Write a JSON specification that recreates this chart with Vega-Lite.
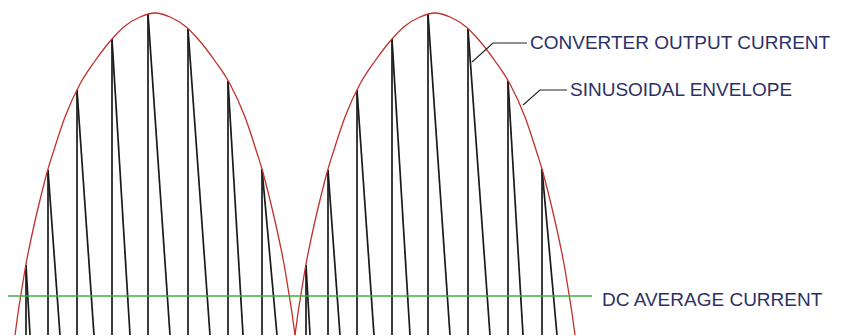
{
  "$schema": "https://vega.github.io/schema/vega-lite/v6.json",
  "width": 843,
  "height": 336,
  "padding": 0,
  "autosize": "none",
  "background": "white",
  "config": {"view": {"stroke": null}},
  "datasets": {
    "envelope": [
      {"arch": 1, "x": 15, "h": 0}, {"arch": 1, "x": 18, "h": 22}, {"arch": 1, "x": 22, "h": 47}, {"arch": 1, "x": 26, "h": 71},
      {"arch": 1, "x": 30, "h": 91}, {"arch": 1, "x": 35, "h": 114}, {"arch": 1, "x": 40, "h": 135}, {"arch": 1, "x": 48, "h": 166},
      {"arch": 1, "x": 53, "h": 182}, {"arch": 1, "x": 65, "h": 218}, {"arch": 1, "x": 80, "h": 251}, {"arch": 1, "x": 95, "h": 274},
      {"arch": 1, "x": 112, "h": 296}, {"arch": 1, "x": 125, "h": 309}, {"arch": 1, "x": 140, "h": 318}, {"arch": 1, "x": 155, "h": 322},
      {"arch": 1, "x": 170, "h": 318}, {"arch": 1, "x": 185, "h": 309}, {"arch": 1, "x": 198, "h": 296}, {"arch": 1, "x": 215, "h": 274},
      {"arch": 1, "x": 230, "h": 251}, {"arch": 1, "x": 245, "h": 218}, {"arch": 1, "x": 257, "h": 182}, {"arch": 1, "x": 262, "h": 166},
      {"arch": 1, "x": 270, "h": 135}, {"arch": 1, "x": 275, "h": 114}, {"arch": 1, "x": 280, "h": 91}, {"arch": 1, "x": 284, "h": 71},
      {"arch": 1, "x": 288, "h": 47}, {"arch": 1, "x": 292, "h": 22}, {"arch": 1, "x": 295, "h": 0},
      {"arch": 2, "x": 295, "h": 0}, {"arch": 2, "x": 298, "h": 22}, {"arch": 2, "x": 302, "h": 47}, {"arch": 2, "x": 306, "h": 71},
      {"arch": 2, "x": 310, "h": 91}, {"arch": 2, "x": 315, "h": 114}, {"arch": 2, "x": 320, "h": 135}, {"arch": 2, "x": 328, "h": 166},
      {"arch": 2, "x": 333, "h": 182}, {"arch": 2, "x": 345, "h": 218}, {"arch": 2, "x": 360, "h": 251}, {"arch": 2, "x": 375, "h": 274},
      {"arch": 2, "x": 392, "h": 296}, {"arch": 2, "x": 405, "h": 309}, {"arch": 2, "x": 420, "h": 318}, {"arch": 2, "x": 435, "h": 322},
      {"arch": 2, "x": 450, "h": 318}, {"arch": 2, "x": 465, "h": 309}, {"arch": 2, "x": 478, "h": 296}, {"arch": 2, "x": 495, "h": 274},
      {"arch": 2, "x": 510, "h": 251}, {"arch": 2, "x": 525, "h": 218}, {"arch": 2, "x": 537, "h": 182}, {"arch": 2, "x": 542, "h": 166},
      {"arch": 2, "x": 550, "h": 135}, {"arch": 2, "x": 555, "h": 114}, {"arch": 2, "x": 560, "h": 91}, {"arch": 2, "x": 564, "h": 71},
      {"arch": 2, "x": 568, "h": 47}, {"arch": 2, "x": 572, "h": 22}, {"arch": 2, "x": 575, "h": 0}
    ],
    "pulses": [
      {"x": 26, "top": 70, "end": 30}, {"x": 48, "top": 165, "end": 60}, {"x": 77, "top": 245, "end": 94},
      {"x": 112, "top": 296, "end": 130}, {"x": 148, "top": 321, "end": 170}, {"x": 188, "top": 306, "end": 210},
      {"x": 228, "top": 254, "end": 243}, {"x": 262, "top": 166, "end": 277},
      {"x": 306, "top": 70, "end": 310}, {"x": 328, "top": 165, "end": 340}, {"x": 357, "top": 245, "end": 374},
      {"x": 392, "top": 296, "end": 410}, {"x": 428, "top": 321, "end": 450}, {"x": 468, "top": 306, "end": 490},
      {"x": 508, "top": 254, "end": 523}, {"x": 542, "top": 166, "end": 557}
    ],
    "average": [{"level": 39, "from": 8, "to": 592}],
    "leaders": [
      {"name": "conv", "x": 472, "h": 273}, {"name": "conv", "x": 493, "h": 292}, {"name": "conv", "x": 527, "h": 292},
      {"name": "env", "x": 523, "h": 230}, {"name": "env", "x": 540, "h": 245}, {"name": "env", "x": 567, "h": 245}
    ],
    "labels": [
      {"text": "CONVERTER OUTPUT CURRENT", "x": 530, "h": 292},
      {"text": "SINUSOIDAL ENVELOPE", "x": 570, "h": 245},
      {"text": "DC AVERAGE CURRENT", "x": 602, "h": 35}
    ]
  },
  "layer": [
    {
      "data": {"name": "pulses"},
      "mark": {"type": "rule", "color": "#1a1a1a", "strokeWidth": 1.7},
      "encoding": {
        "x": {"field": "x", "type": "quantitative", "scale": {"domain": [0, 843], "nice": false, "zero": false}, "axis": null},
        "y": {"field": "top", "type": "quantitative", "scale": {"domain": [-1, 335], "nice": false, "zero": false}, "axis": null},
        "y2": {"datum": 0}
      }
    },
    {
      "data": {"name": "pulses"},
      "mark": {"type": "rule", "color": "#1a1a1a", "strokeWidth": 1.7},
      "encoding": {
        "x": {"field": "x", "type": "quantitative", "scale": {"domain": [0, 843], "nice": false, "zero": false}, "axis": null},
        "x2": {"field": "end"},
        "y": {"field": "top", "type": "quantitative", "scale": {"domain": [-1, 335], "nice": false, "zero": false}, "axis": null},
        "y2": {"datum": 0}
      }
    },
    {
      "data": {"name": "envelope"},
      "mark": {"type": "line", "color": "#c0302a", "strokeWidth": 1.3, "interpolate": "monotone"},
      "encoding": {
        "x": {"field": "x", "type": "quantitative", "scale": {"domain": [0, 843], "nice": false, "zero": false}, "axis": null},
        "y": {"field": "h", "type": "quantitative", "scale": {"domain": [-1, 335], "nice": false, "zero": false}, "axis": null},
        "detail": {"field": "arch"}
      }
    },
    {
      "data": {"name": "average"},
      "mark": {"type": "rule", "color": "#3cb043", "strokeWidth": 1.6},
      "encoding": {
        "x": {"field": "from", "type": "quantitative", "scale": {"domain": [0, 843], "nice": false, "zero": false}, "axis": null},
        "x2": {"field": "to"},
        "y": {"field": "level", "type": "quantitative", "scale": {"domain": [-1, 335], "nice": false, "zero": false}, "axis": null}
      }
    },
    {
      "data": {"name": "leaders"},
      "mark": {"type": "line", "color": "#222222", "strokeWidth": 1.1},
      "encoding": {
        "x": {"field": "x", "type": "quantitative", "scale": {"domain": [0, 843], "nice": false, "zero": false}, "axis": null},
        "y": {"field": "h", "type": "quantitative", "scale": {"domain": [-1, 335], "nice": false, "zero": false}, "axis": null},
        "detail": {"field": "name"}
      }
    },
    {
      "data": {"name": "labels"},
      "mark": {"type": "text", "align": "left", "baseline": "middle", "font": "Liberation Sans", "fontSize": 19, "color": "#2c3066"},
      "encoding": {
        "x": {"field": "x", "type": "quantitative", "scale": {"domain": [0, 843], "nice": false, "zero": false}, "axis": null},
        "y": {"field": "h", "type": "quantitative", "scale": {"domain": [-1, 335], "nice": false, "zero": false}, "axis": null},
        "text": {"field": "text"}
      }
    }
  ]
}
